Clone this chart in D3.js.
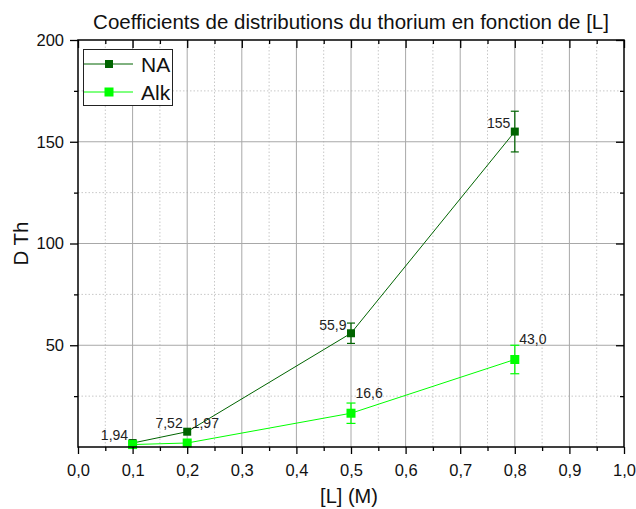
<!DOCTYPE html>
<html>
<head>
<meta charset="utf-8">
<script src="https://cdn.jsdelivr.net/npm/d3@7"></script>
<style>
  html, body { margin: 0; padding: 0; background: #fff; }
  svg { display: block; font-family: "Liberation Sans", Arial, sans-serif; }
</style>
</head>
<body>
<svg id="chart" width="636" height="509"></svg>
<script>
// Ligand concentration [L] (M)
const concentrations = [0.1, 0.2, 0.5, 0.8];

// Distribution coefficients of thorium for each extractant system
const naValues  = [1.94, 7.52, 55.9, 155];
const naErrors  = [0, 0, 5, 10];
const alkValues = [1.2, 1.97, 16.6, 43.0];
const alkErrors = [0, 0, 5, 7];
const alkLabelled = [false, true, true, true];

const seriesNames = ["NA", "Alk"];
const xMajorTicks = [0, 0.1, 0.2, 0.3, 0.4, 0.5, 0.6, 0.7, 0.8, 0.9, 1.0];
const xMinorTicks = [0.05, 0.15, 0.25, 0.35, 0.45, 0.55, 0.65, 0.75, 0.85, 0.95];
const yMajorTicks = [50, 100, 150, 200];
const yMinorTicks = [25, 75, 125, 175];

const width = 636, height = 509;
const margin = { top: 40, right: 12, bottom: 62, left: 78 };
const svg = d3.select("#chart");

const frLocale = d3.formatLocale({ decimal: ",", thousands: " ", grouping: [3], currency: ["", " €"] });
const fmtTick = frLocale.format(".1f");
const fmtValue = frLocale.format(".3r");

const x = d3.scaleLinear().domain([0, 1]).range([margin.left, width - margin.right]);
const y = d3.scaleLinear().domain([0, 200]).range([height - margin.bottom, margin.top]);

const series = [
  { name: seriesNames[0], values: naValues, errors: naErrors, color: "#006400", size: 8,
    labelled: naValues.map(() => true), side: "left" },
  { name: seriesNames[1], values: alkValues, errors: alkErrors, color: "#00ff00", size: 9,
    labelled: alkLabelled, side: "right" }
];

// Grid
const grid = svg.append("g");
grid.selectAll(".vmin").data(xMinorTicks).join("line")
  .attr("x1", d => x(d)).attr("x2", d => x(d))
  .attr("y1", y(0)).attr("y2", y(200))
  .attr("stroke", "#c8c8c8").attr("stroke-dasharray", "1.5,2");
grid.selectAll(".hmin").data(yMinorTicks).join("line")
  .attr("y1", d => y(d)).attr("y2", d => y(d))
  .attr("x1", x(0)).attr("x2", x(1))
  .attr("stroke", "#c8c8c8").attr("stroke-dasharray", "1.5,2");
grid.selectAll(".vmaj").data(xMajorTicks.slice(1, -1)).join("line")
  .attr("x1", d => x(d)).attr("x2", d => x(d))
  .attr("y1", y(0)).attr("y2", y(200))
  .attr("stroke", "#a8a8a8");
grid.selectAll(".hmaj").data(yMajorTicks.slice(0, -1)).join("line")
  .attr("y1", d => y(d)).attr("y2", d => y(d))
  .attr("x1", x(0)).attr("x2", x(1))
  .attr("stroke", "#a8a8a8");

// Series lines, error bars, markers
const line = d3.line().x((d, i) => x(concentrations[i])).y(d => y(d));
series.forEach(s => {
  const g = svg.append("g");
  g.append("path").datum(s.values)
    .attr("d", line).attr("fill", "none")
    .attr("stroke", s.color).attr("stroke-width", 1);
  const pts = s.values.map((v, i) => ({ c: concentrations[i], v, e: s.errors[i], lab: s.labelled[i] }));
  const eb = g.selectAll(".err").data(pts.filter(p => p.e > 0)).join("g");
  eb.append("line")
    .attr("x1", d => x(d.c)).attr("x2", d => x(d.c))
    .attr("y1", d => y(d.v + d.e)).attr("y2", d => y(d.v - d.e))
    .attr("stroke", s.color).attr("stroke-width", 1.2);
  [1, -1].forEach(sign => {
    eb.append("line")
      .attr("x1", d => x(d.c) - s.size / 2).attr("x2", d => x(d.c) + s.size / 2)
      .attr("y1", d => y(d.v + sign * d.e)).attr("y2", d => y(d.v + sign * d.e))
      .attr("stroke", s.color).attr("stroke-width", 1.2);
  });
  g.selectAll(".pt").data(pts).join("rect")
    .attr("x", d => x(d.c) - s.size / 2).attr("y", d => y(d.v) - s.size / 2)
    .attr("width", s.size).attr("height", s.size)
    .attr("fill", s.color);
  s.pts = pts;
});

// Value labels
series.forEach(s => {
  svg.append("g").selectAll("text").data(s.pts.filter(p => p.lab)).join("text")
    .attr("x", d => s.side === "left" ? x(d.c) - 4.5 : x(d.c) + 4.5)
    .attr("y", d => s.side === "left" ? y(d.v) - 3.5 : y(d.v) - 15)
    .attr("text-anchor", s.side === "left" ? "end" : "start")
    .attr("font-size", 14).attr("fill", "#222")
    .text(d => fmtValue(d.v));
});

// Axes
const axisStyle = g => {
  g.select(".domain").remove();
  g.selectAll(".tick line").attr("stroke", "#000").attr("stroke-width", 1.3);
  g.selectAll(".tick text").attr("fill", "#111").attr("font-size", 16.5)
    .attr("font-family", "'Liberation Sans', Arial, sans-serif");
};
// bottom
svg.append("g").attr("transform", `translate(0,${y(0)})`)
  .call(d3.axisBottom(x).tickValues(xMajorTicks).tickSize(7).tickPadding(10).tickFormat(fmtTick))
  .call(axisStyle);
svg.append("g").attr("transform", `translate(0,${y(0)})`)
  .call(d3.axisBottom(x).tickValues(xMinorTicks).tickSize(4).tickFormat(""))
  .call(axisStyle);
// top (inward)
svg.append("g").attr("transform", `translate(0,${y(200)})`)
  .call(d3.axisBottom(x).tickValues(xMajorTicks).tickSize(8).tickFormat(""))
  .call(axisStyle);
svg.append("g").attr("transform", `translate(0,${y(200)})`)
  .call(d3.axisBottom(x).tickValues(xMinorTicks).tickSize(4).tickFormat(""))
  .call(axisStyle);
// left
svg.append("g").attr("transform", `translate(${x(0)},0)`)
  .call(d3.axisLeft(y).tickValues(yMajorTicks).tickSize(8).tickPadding(6).tickFormat(d3.format("d")))
  .call(axisStyle);
svg.append("g").attr("transform", `translate(${x(0)},0)`)
  .call(d3.axisLeft(y).tickValues(yMinorTicks).tickSize(4).tickFormat(""))
  .call(axisStyle);
// right (inward)
svg.append("g").attr("transform", `translate(${x(1)},0)`)
  .call(d3.axisLeft(y).tickValues(yMajorTicks).tickSize(8).tickFormat(""))
  .call(axisStyle);
svg.append("g").attr("transform", `translate(${x(1)},0)`)
  .call(d3.axisLeft(y).tickValues(yMinorTicks).tickSize(4).tickFormat(""))
  .call(axisStyle);

// Frame
svg.append("rect")
  .attr("x", x(0)).attr("y", y(200))
  .attr("width", x(1) - x(0)).attr("height", y(0) - y(200))
  .attr("fill", "none").attr("stroke", "#000").attr("stroke-width", 1.5);

// Legend
const legend = svg.append("g");
legend.append("rect")
  .attr("x", 83.5).attr("y", 49.5).attr("width", 89).attr("height", 56)
  .attr("fill", "#fff").attr("stroke", "#222").attr("stroke-width", 1);
series.forEach((s, i) => {
  const cy = 64 + i * 28;
  legend.append("line").attr("x1", 84).attr("x2", 133).attr("y1", cy).attr("y2", cy)
    .attr("stroke", s.color).attr("stroke-width", 1);
  legend.append("rect").attr("x", 109 - s.size / 2).attr("y", cy - s.size / 2)
    .attr("width", s.size).attr("height", s.size).attr("fill", s.color);
  legend.append("text").attr("x", 141).attr("y", cy + 7.5)
    .attr("font-size", 21).attr("fill", "#111").text(s.name);
});

// Titles
svg.append("text").attr("x", (x(0) + x(1)) / 2).attr("y", 28.5)
  .attr("text-anchor", "middle").attr("font-size", 20.5).attr("fill", "#111")
  .text("Coefficients de distributions du thorium en fonction de [L]");
svg.append("text").attr("x", (x(0) + x(1)) / 2 - 2).attr("y", 503)
  .attr("text-anchor", "middle").attr("font-size", 20).attr("fill", "#111")
  .text("[L] (M)");
svg.append("text")
  .attr("transform", `translate(28,${(y(0) + y(200)) / 2}) rotate(-90)`)
  .attr("text-anchor", "middle").attr("font-size", 20.5).attr("fill", "#111")
  .text("D Th");
</script>
</body>
</html>
